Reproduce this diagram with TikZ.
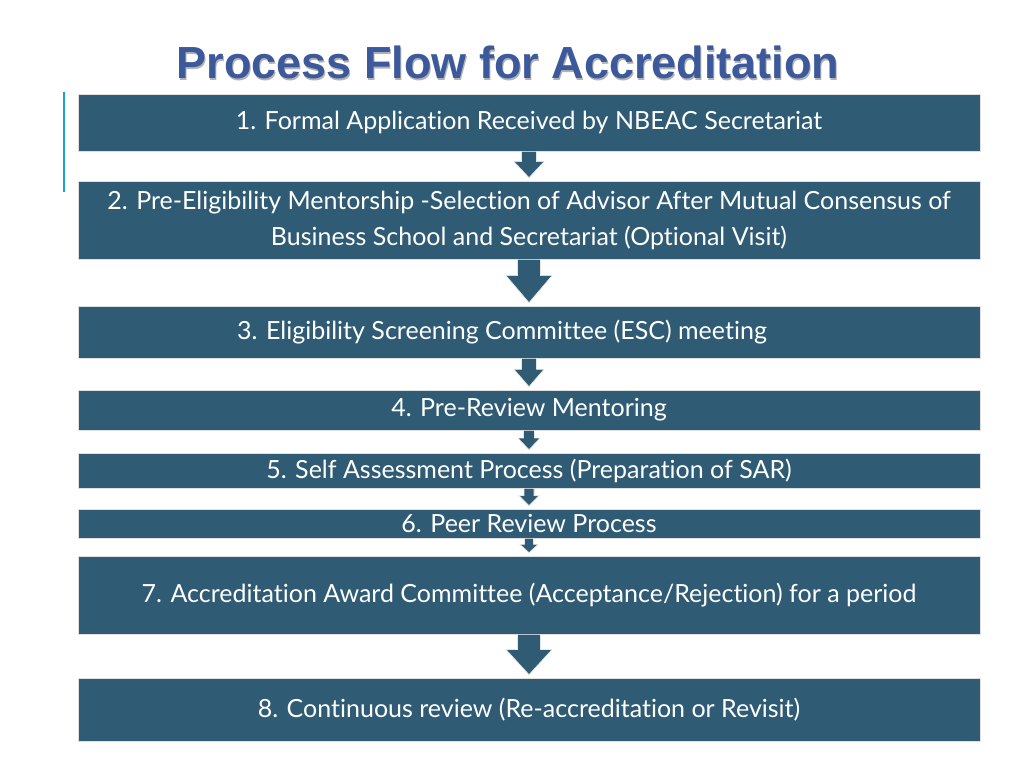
\documentclass[tikz,border=0pt]{standalone}
\usepackage{fontspec}
\setmainfont[Ligatures=NoCommon]{Lato}
\newfontfamily\titlefont{Liberation Sans}
\usetikzlibrary{positioning,calc}
\definecolor{boxblue}{HTML}{2F5B74}
\definecolor{titleblue}{HTML}{3C599C}
\definecolor{barcyan}{HTML}{1BA3CF}
\tikzset{
  stepbox/.style={fill=boxblue,draw=gray!25,line width=0.8pt,text=white,
    minimum width=902pt,inner sep=0pt,align=center,font=\fontsize{25}{36}\selectfont},
  arrowfill/.style={fill=boxblue,draw=gray!20,line width=0.6pt}
}
\newcommand\flowarrow[3]{%
  \filldraw[arrowfill] ([xshift=-#3*0.5pt]#1.south) --
    ([xshift=-#3*0.5pt]$(#1.south)!0.35!(#2.north)$) --
    ([xshift=-#3*1pt]$(#1.south)!0.35!(#2.north)$) --
    ([yshift=3pt]#2.north) --
    ([xshift=#3*1pt]$(#1.south)!0.35!(#2.north)$) --
    ([xshift=#3*0.5pt]$(#1.south)!0.35!(#2.north)$) --
    ([xshift=#3*0.5pt]#1.south) -- cycle;}
\begin{document}
\begin{tikzpicture}[x=1pt,y=-1pt]
  \useasboundingbox (0,0) rectangle (1024,768);
  % title
  \node[font=\titlefont\bfseries\fontsize{45}{46}\selectfont,text=black!30] at (509,64) {Process Flow for Accreditation};
  \node[font=\titlefont\bfseries\fontsize{45}{46}\selectfont,text=titleblue] (title) at (508,62) {Process Flow for Accreditation};
  \draw[barcyan,line width=2pt] (64,92) -- (64,192);
  % boxes
  \node[stepbox,minimum height=57pt] (s1) at (529,122.5) {1. Formal Application Received by NBEAC Secretariat};
  \node[stepbox,minimum height=78pt] (s2) at (529,220) {2. Pre-Eligibility Mentorship -Selection of Advisor After Mutual Consensus of\\Business School and Secretariat (Optional Visit)};
  \node[stepbox,minimum height=52pt] (s3) at (529,332) {3. Eligibility Screening Committee (ESC) meeting\hspace{54pt}};
  \node[stepbox,minimum height=40pt] (s4) at (529,410) {4. Pre-Review Mentoring};
  \node[stepbox,minimum height=35pt] (s5) at (529,470.5) {5. Self Assessment Process (Preparation of SAR)};
  \node[stepbox,minimum height=29pt] (s6) at (529,523.5) {6. Peer Review Process};
  \node[stepbox,minimum height=78pt] (s7) at (529,595) {7. Accreditation Award Committee (Acceptance/Rejection) for a period};
  \node[stepbox,minimum height=63pt] (s8) at (529,709.5) {8. Continuous review (Re-accreditation or Revisit)};
  % arrows
  \flowarrow{s1}{s2}{15}
  \flowarrow{s2}{s3}{23}
  \flowarrow{s3}{s4}{15}
  \flowarrow{s4}{s5}{11}
  \flowarrow{s5}{s6}{10}
  \flowarrow{s6}{s7}{9}
  \flowarrow{s7}{s8}{23}
\end{tikzpicture}
\end{document}
